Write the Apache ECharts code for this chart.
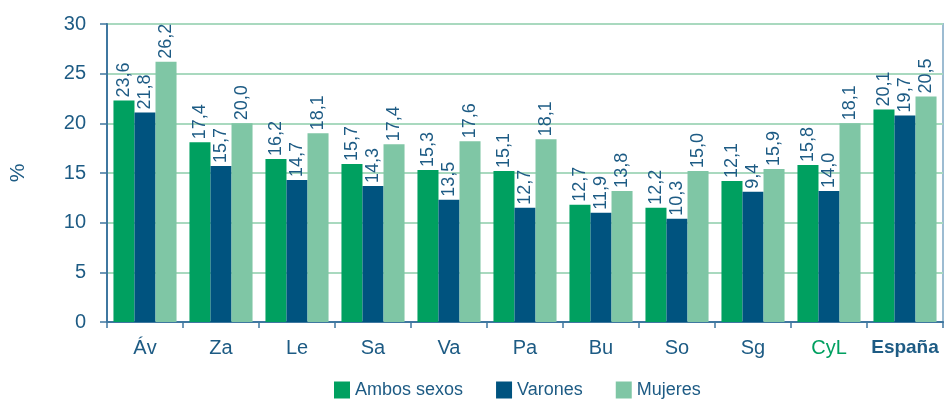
<!DOCTYPE html>
<html>
<head>
<meta charset="utf-8">
<script src="https://cdn.jsdelivr.net/npm/echarts@6/dist/echarts.min.js"></script>
<style>
  html, body { margin: 0; padding: 0; background: #fff; }
  #main { width: 946px; height: 402px; }
</style>
</head>
<body>
<div id="main"></div>
<script>
// datos
const categories = ['Áv', 'Za', 'Le', 'Sa', 'Va', 'Pa', 'Bu', 'So', 'Sg', 'CyL', 'España'];
const seriesNames = ['Ambos sexos', 'Varones', 'Mujeres'];

// altura de las barras
const ambos   = [22.3, 18.1, 16.4, 15.9, 15.3, 15.2, 11.8, 11.5, 14.2, 15.8, 21.4];
const varones = [21.1, 15.7, 14.3, 13.7, 12.3, 11.5, 11.0, 10.4, 13.1, 13.2, 20.8];
const mujeres = [26.2, 20.0, 19.0, 17.9, 18.2, 18.4, 13.2, 15.2, 15.4, 20.0, 22.7];

// etiquetas tal como aparecen
const ambosLbl   = ['23,6', '17,4', '16,2', '15,7', '15,3', '15,1', '12,7', '12,2', '12,1', '15,8', '20,1'];
const varonesLbl = ['21,8', '15,7', '14,7', '14,3', '13,5', '12,7', '11,9', '10,3', '9,4', '14,0', '19,7'];
const mujeresLbl = ['26,2', '20,0', '18,1', '17,4', '17,6', '18,1', '13,8', '15,0', '15,9', '18,1', '20,5'];

const colors = ['#00a060', '#00537f', '#7fc6a5'];
const textColor = '#1d5b84';
const font = '"Liberation Sans", Arial, sans-serif';

let myChart = echarts.init(document.getElementById('main'));

function makeSeries(name, data, labels, color) {
    return {
        name: name,
        type: 'bar',
        data: data,
        barGap: '0%',
        barCategoryGap: '17%',
        itemStyle: { color: color },
        label: {
            show: true,
            position: 'top',
            rotate: 90,
            align: 'left',
            verticalAlign: 'middle',
            distance: 3,
            color: textColor,
            fontFamily: font,
            fontSize: 18,
            formatter: function (p) { return labels[p.dataIndex]; }
        }
    };
}

const catData = categories.map(function (c) {
    if (c === 'CyL') return { value: c, textStyle: { color: '#00a060' } };
    if (c === 'España') return { value: c, textStyle: { fontWeight: 'bold', fontSize: 19 } };
    return c;
});

option = {
    backgroundColor: '#fff',
    animation: false,
    grid: {
        left: 97,
        right: 3,
        top: 24,
        bottom: 80,
        show: true,
        borderColor: '#9dbcd2',
        borderWidth: 2
    },
    legend: {
        data: seriesNames,
        left: 329,
        top: 376,
        itemWidth: 16,
        itemHeight: 17,
        itemGap: 33,
        icon: 'rect',
        textStyle: {
            color: textColor,
            fontFamily: font,
            fontSize: 18
        }
    },
    xAxis: {
        type: 'category',
        data: catData,
        axisLine: { lineStyle: { color: '#3f77a0', width: 2 } },
        axisTick: { show: true, length: 6, lineStyle: { color: '#3f77a0', width: 1.5 } },
        axisLabel: {
            interval: 0,
            color: textColor,
            fontFamily: font,
            fontSize: 20,
            margin: 16
        }
    },
    yAxis: {
        type: 'value',
        min: 0,
        max: 30,
        interval: 5,
        name: '%',
        nameLocation: 'middle',
        nameRotate: 90,
        nameGap: 78,
        nameTextStyle: {
            color: textColor,
            fontFamily: font,
            fontSize: 21
        },
        axisLine: { show: true, lineStyle: { color: '#3f77a0', width: 2 } },
        axisTick: { show: true, length: 7, lineStyle: { color: '#3f77a0', width: 1.5 } },
        axisLabel: {
            color: textColor,
            fontFamily: font,
            fontSize: 20,
            margin: 21
        },
        splitLine: { lineStyle: { color: '#a9d9bf', width: 2 } }
    },
    series: [
        makeSeries(seriesNames[0], ambos, ambosLbl, colors[0]),
        makeSeries(seriesNames[1], varones, varonesLbl, colors[1]),
        makeSeries(seriesNames[2], mujeres, mujeresLbl, colors[2])
    ]
};

myChart.setOption(option);
</script>
</body>
</html>
